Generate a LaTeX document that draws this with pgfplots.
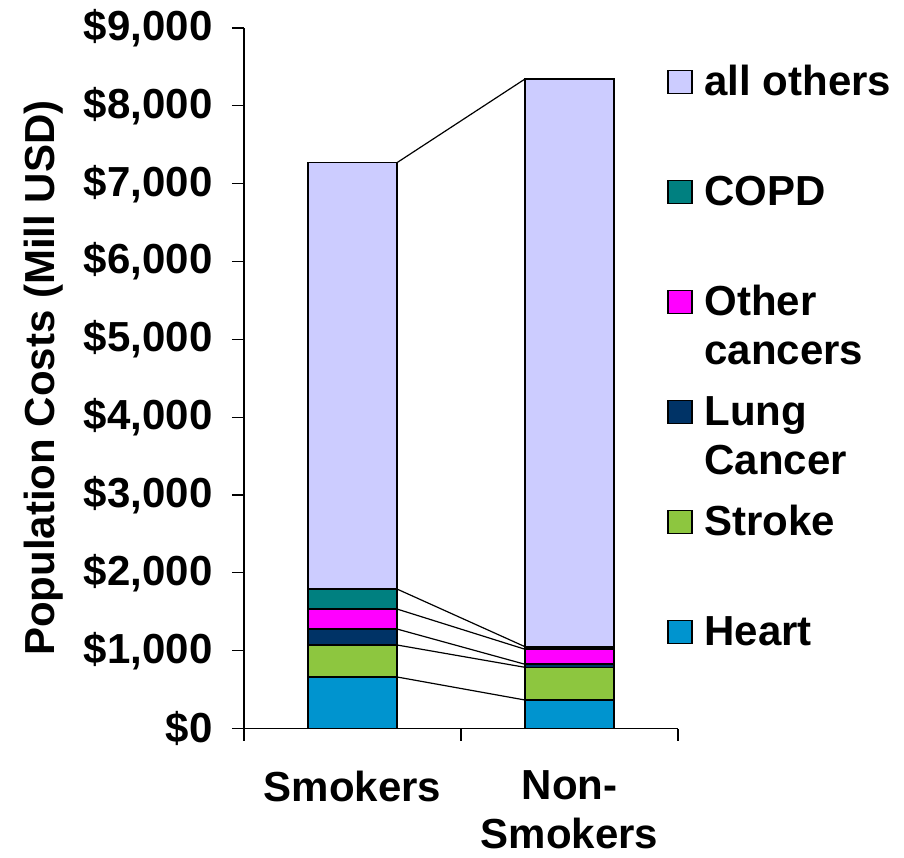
\documentclass[border=0pt]{standalone}
\usepackage{fontspec}
\setmainfont{Liberation Sans}
\usepackage{pgfplots}
\pgfplotsset{compat=1.18}
\definecolor{allothers}{HTML}{CCCCFF}
\definecolor{copd}{HTML}{008080}
\definecolor{othercanc}{HTML}{FF00FF}
\definecolor{lung}{HTML}{003366}
\definecolor{stroke}{HTML}{8DC63F}
\definecolor{heart}{HTML}{0094CF}
\newcommand\ff{\fontsize{42}{49}\selectfont\bfseries}
\pgfplotsset{
  mylegend/.style={legend image code/.code={\draw[##1, draw=black, line width=1.2pt] (0pt,27pt) rectangle (24pt,50pt);}},
  mybar/.style={fill=#1, draw=black, line width=1.6pt, mylegend},
}
\begin{document}
\begin{tikzpicture}
\path[use as bounding box] (-244pt,-128.5pt) rectangle (660pt,728.5pt);
\begin{axis}[
  at={(0pt,0pt)}, anchor=south west,
  scale only axis, width=434pt, height=700.5pt,
  xmin=-0.5, xmax=1.5, ymin=0, ymax=9000,
  ybar stacked, bar width=0.41,
  axis x line=bottom, axis y line=left,
  axis line style={-, line width=1.2pt},
  tick align=outside, major tick length=12pt,
  tick style={black, line width=1.2pt},
  xtick={-0.5,0.5,1.5}, xticklabels={},
  extra x ticks={0,1},
  extra x tick labels={Smokers,{Non-\\Smokers}},
  extra x tick style={major tick length=0pt, tick style={draw=none},
     xticklabel style={font=\ff, align=center, yshift=-39pt}},
  ytick={0,1000,2000,3000,4000,5000,6000,7000,8000,9000},
  yticklabels={{\$0},{\$1,000},{\$2,000},{\$3,000},{\$4,000},{\$5,000},{\$6,000},{\$7,000},{\$8,000},{\$9,000}},
  yticklabel style={font=\ff},
  yticklabel shift=16pt,
  ylabel={Population Costs (Mill USD)},
  ylabel style={font=\ff},
  ylabel shift=14pt,
  reverse legend,
  legend cell align=left,
  legend style={at={(0.975,0.947)}, anchor=north west, draw=none, fill=none,
    inner sep=0pt, row sep=0pt, column sep=12pt,
    nodes={font=\ff, inner sep=0pt, text height=30pt, text depth=80pt}},
]
\addplot[mybar=heart] coordinates {(0,662) (1,366)};
\addplot[mybar=stroke] coordinates {(0,411) (1,420)};
\addplot[mybar=lung] coordinates {(0,205) (1,39)};
\addplot[mybar=othercanc] coordinates {(0,257) (1,193)};
\addplot[mybar=copd] coordinates {(0,257) (1,33)};
\addplot[mybar=allothers] coordinates {(0,5478) (1,7294)};
\legend{Heart,Stroke,{\begin{tabular}[t]{@{}l@{}}Lung\\Cancer\end{tabular}},{\begin{tabular}[t]{@{}l@{}}Other\\cancers\end{tabular}},COPD,all others}
\end{axis}
\begin{axis}[
  at={(0pt,0pt)}, anchor=south west,
  scale only axis, width=434pt, height=700.5pt,
  xmin=-0.5, xmax=1.5, ymin=0, ymax=9000,
  hide axis,
]
\addplot[black, line width=1.2pt] coordinates {(0.205,662) (0.795,366)};
\addplot[black, line width=1.2pt] coordinates {(0.205,1073) (0.795,786)};
\addplot[black, line width=1.2pt] coordinates {(0.205,1278) (0.795,825)};
\addplot[black, line width=1.2pt] coordinates {(0.205,1535) (0.795,1018)};
\addplot[black, line width=1.2pt] coordinates {(0.205,1792) (0.795,1051)};
\addplot[black, line width=1.2pt] coordinates {(0.205,7270) (0.795,8345)};
\end{axis}
\end{tikzpicture}
\end{document}
